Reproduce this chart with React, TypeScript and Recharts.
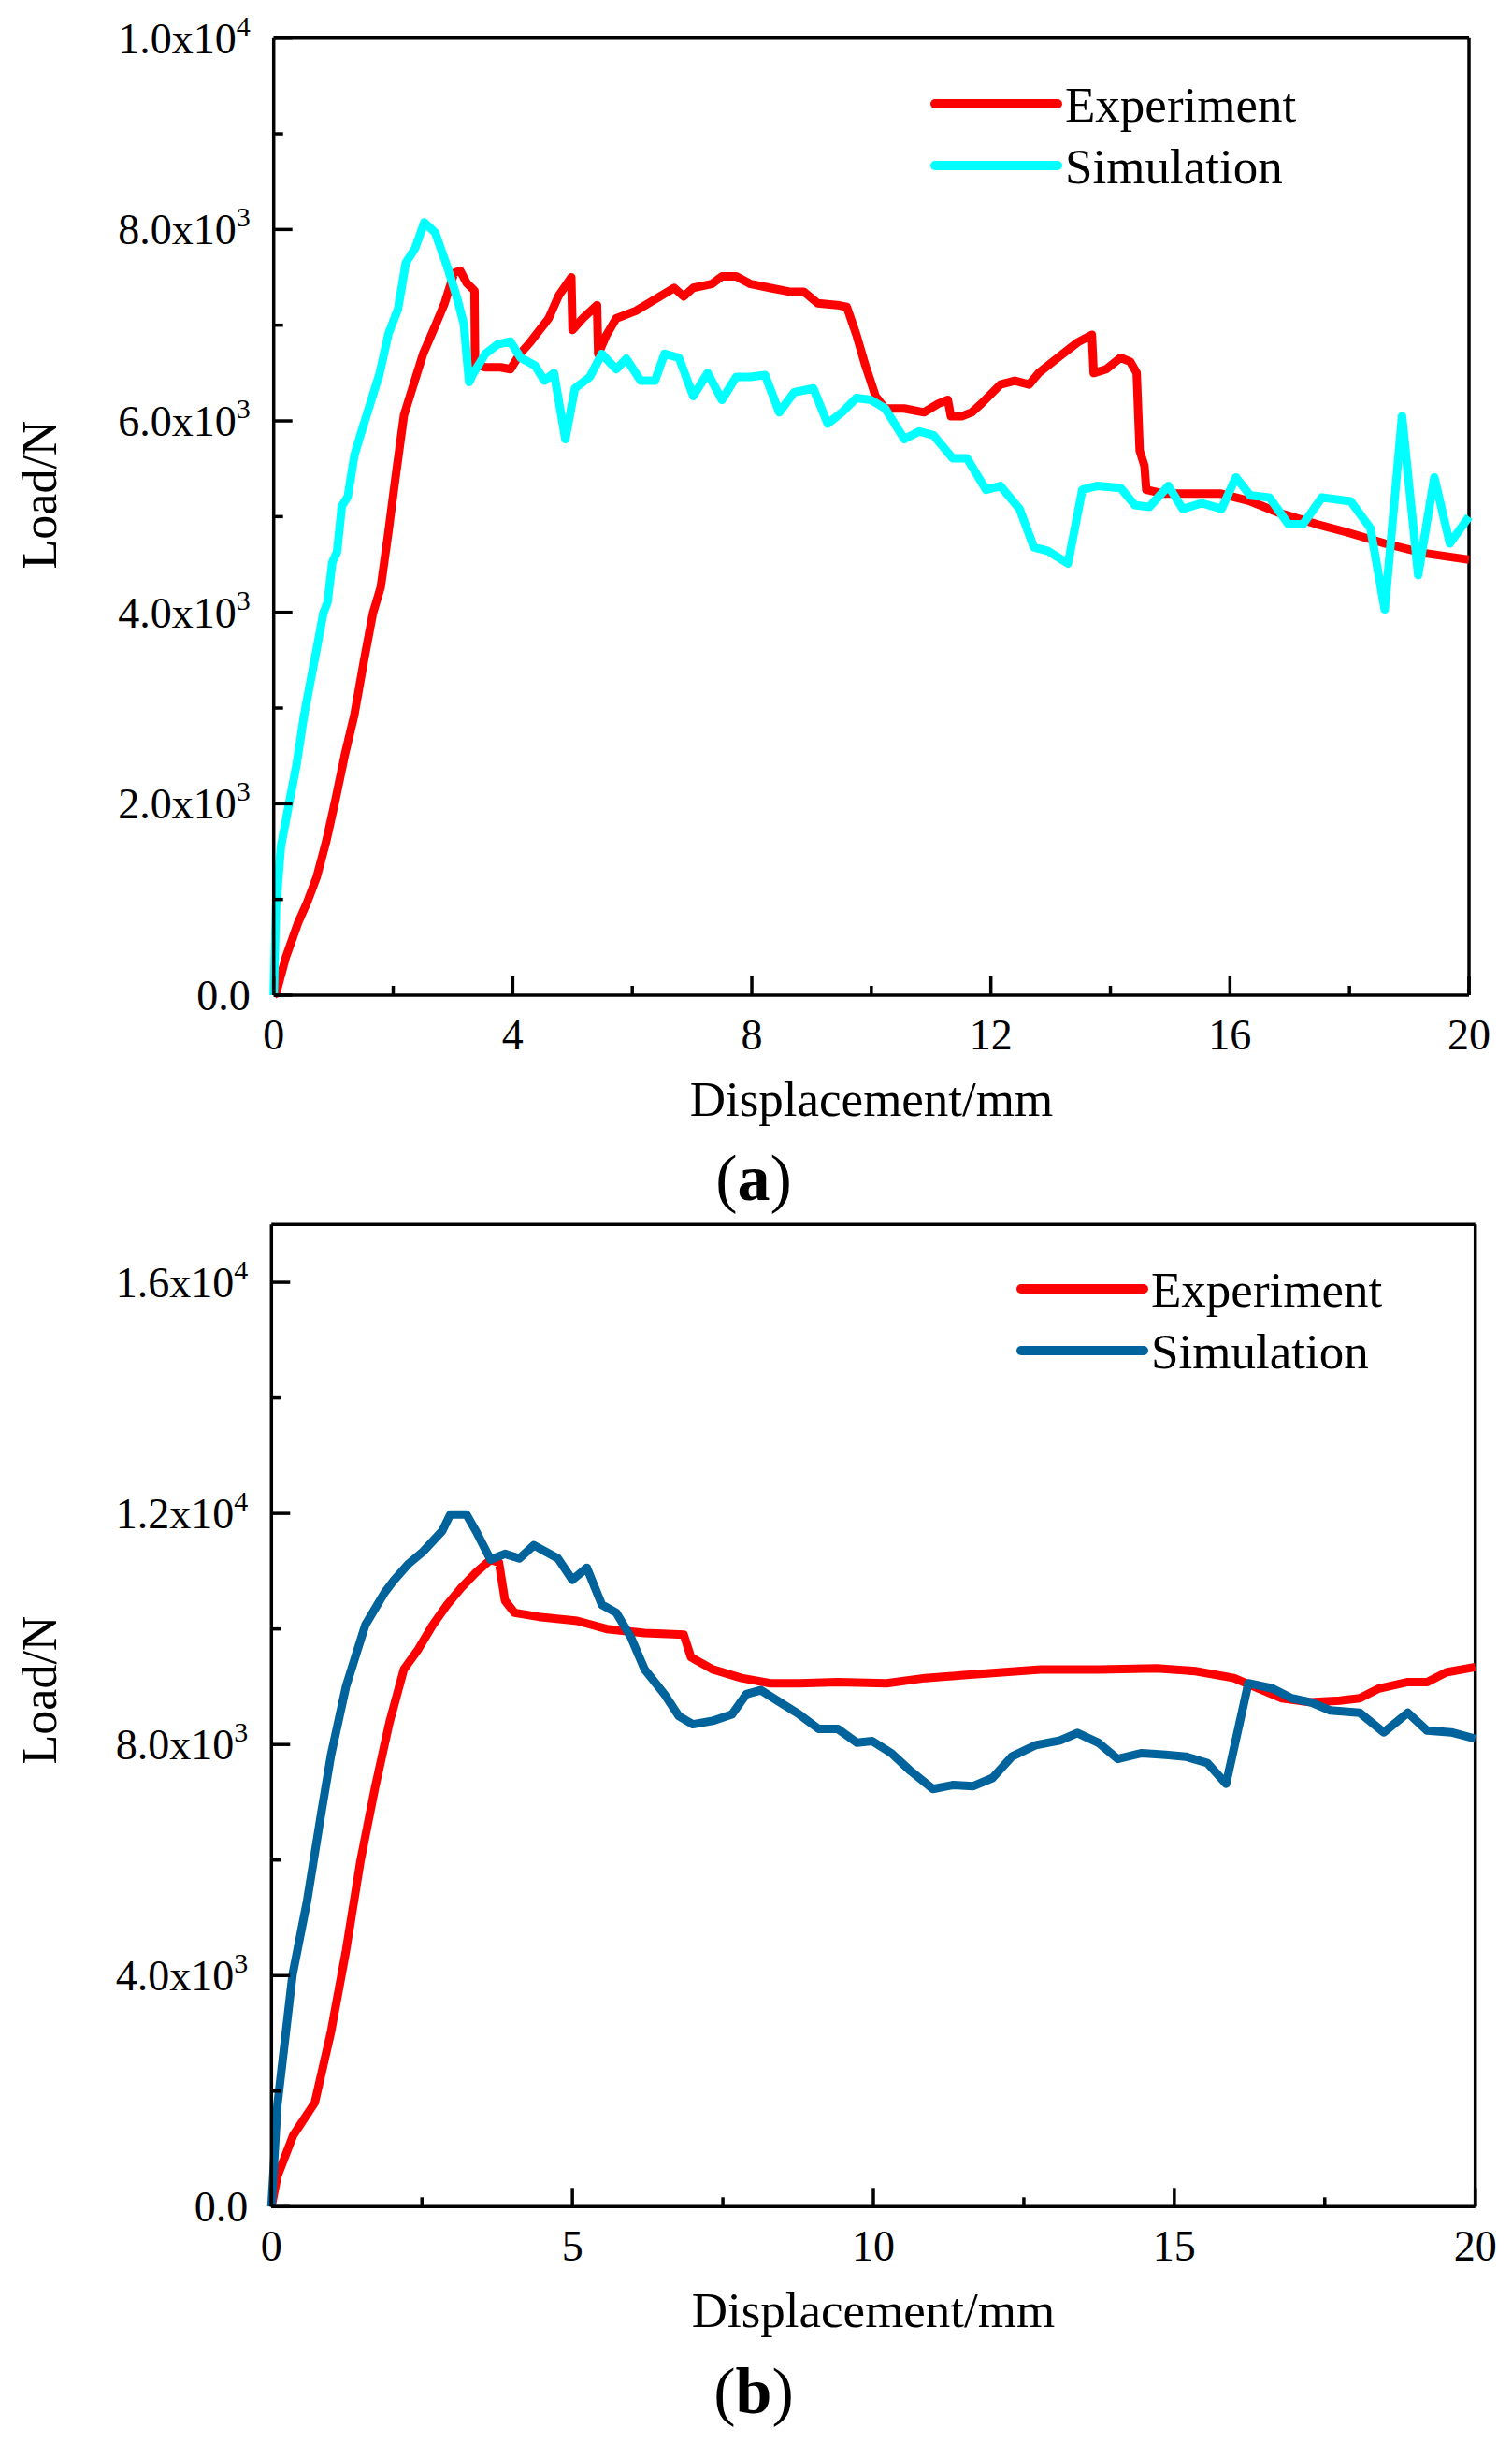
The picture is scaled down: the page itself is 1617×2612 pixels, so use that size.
import React from 'react';
import { LineChart, Line, XAxis, YAxis, ReferenceLine, Legend } from 'recharts';

const FONT = "'Liberation Serif', 'Times New Roman', Times, serif";

// ---------- Panel (a) data ----------
const experimentA: [number, number][] = [
  [0, 0], [0.04, 20], [0.2, 390], [0.41, 760], [0.56, 970], [0.72, 1235], [0.88, 1610], [1.03, 2030],
  [1.19, 2510], [1.35, 2930], [1.5, 3460], [1.66, 3990], [1.79, 4260], [1.92, 4840], [2.03, 5370],
  [2.18, 6060], [2.34, 6380], [2.5, 6700], [2.7, 6990], [2.86, 7230], [3.02, 7545], [3.12, 7570],
  [3.23, 7440], [3.36, 7360], [3.37, 6590], [3.54, 6560], [3.8, 6560], [3.96, 6540], [4.12, 6700],
  [4.29, 6820], [4.6, 7070], [4.77, 7310], [4.98, 7500], [5.0, 6950], [5.17, 7070], [5.41, 7210],
  [5.43, 6700], [5.57, 6900], [5.73, 7070], [6.06, 7150], [6.38, 7270], [6.7, 7390], [6.86, 7300],
  [7.02, 7390], [7.33, 7430], [7.5, 7510], [7.74, 7510], [7.98, 7430], [8.3, 7390], [8.63, 7350],
  [8.87, 7350], [9.1, 7230], [9.43, 7210], [9.59, 7190], [9.75, 6900], [9.9, 6580], [10.07, 6260],
  [10.23, 6130], [10.55, 6130], [10.88, 6090], [11.12, 6180], [11.28, 6220], [11.33, 6050],
  [11.52, 6050], [11.68, 6090], [11.84, 6180], [12.16, 6380], [12.4, 6420], [12.64, 6380],
  [12.8, 6500], [13.12, 6660], [13.45, 6820], [13.69, 6900], [13.72, 6500], [13.93, 6540],
  [14.17, 6660], [14.33, 6620], [14.44, 6500], [14.49, 5690], [14.57, 5530], [14.6, 5280],
  [14.9, 5240], [15.37, 5240], [15.85, 5240], [16.34, 5160], [16.82, 5040], [17.46, 4920],
  [17.94, 4840], [18.59, 4720], [19.23, 4620], [20, 4550],
];

const simulationA: [number, number][] = [
  [0, 0], [0.04, 920], [0.12, 1550], [0.25, 1980], [0.38, 2400], [0.51, 2930], [0.64, 3360],
  [0.72, 3620], [0.83, 3990], [0.9, 4100], [0.98, 4520], [1.06, 4630], [1.14, 5110], [1.24, 5210],
  [1.35, 5640], [1.45, 5850], [1.61, 6170], [1.77, 6490], [1.92, 6910], [2.08, 7170], [2.21, 7650],
  [2.37, 7810], [2.52, 8075], [2.7, 7970], [2.91, 7600], [3.07, 7280], [3.18, 7015], [3.27, 6405],
  [3.33, 6485], [3.54, 6700], [3.75, 6800], [3.96, 6830], [4.13, 6660], [4.37, 6580], [4.53, 6420],
  [4.69, 6500], [4.88, 5810], [5.04, 6340], [5.29, 6460], [5.49, 6700], [5.73, 6540], [5.9, 6650],
  [6.14, 6420], [6.38, 6420], [6.54, 6700], [6.78, 6660], [7.02, 6260], [7.26, 6500], [7.5, 6220],
  [7.74, 6460], [7.98, 6460], [8.22, 6480], [8.46, 6090], [8.71, 6300], [9.03, 6340], [9.27, 5970],
  [9.51, 6090], [9.75, 6240], [9.99, 6220], [10.23, 6130], [10.55, 5810], [10.8, 5890],
  [11.04, 5850], [11.36, 5610], [11.6, 5610], [11.92, 5280], [12.16, 5320], [12.48, 5080],
  [12.72, 4680], [12.96, 4640], [13.29, 4510], [13.53, 5280], [13.77, 5320], [14.17, 5300],
  [14.41, 5120], [14.65, 5100], [14.97, 5320], [15.21, 5080], [15.53, 5140], [15.86, 5080],
  [16.1, 5410], [16.34, 5220], [16.66, 5200], [16.98, 4920], [17.22, 4920], [17.54, 5200],
  [18.02, 5160], [18.35, 4880], [18.59, 4030], [18.88, 6050], [19.15, 4390], [19.42, 5410],
  [19.68, 4720], [20, 5000],
];

// ---------- Panel (b) data ----------
const experimentB: [number, number][] = [
  [0, 0], [0.1, 530], [0.36, 1230], [0.72, 1800], [0.99, 3030], [1.24, 4440], [1.48, 5990],
  [1.72, 7250], [1.96, 8380], [2.2, 9300], [2.44, 9650], [2.68, 10070], [2.92, 10420], [3.16, 10720],
  [3.4, 10980], [3.64, 11200], [3.78, 11150], [3.88, 10490], [4.04, 10280], [4.44, 10210],
  [5.08, 10140], [5.57, 10000], [6.2, 9930], [6.85, 9900], [6.97, 9510], [7.33, 9300], [7.81, 9150],
  [8.29, 9060], [8.77, 9060], [9.41, 9080], [10.22, 9060], [10.86, 9150], [11.5, 9200],
  [12.14, 9250], [12.78, 9300], [13.75, 9300], [14.71, 9320], [15.35, 9270], [15.99, 9150],
  [16.31, 9010], [16.79, 8800], [17.27, 8730], [17.75, 8760], [18.08, 8800], [18.4, 8970],
  [18.88, 9080], [19.2, 9080], [19.52, 9250], [20, 9340],
];

const simulationB: [number, number][] = [
  [0, 0], [0.1, 1770], [0.35, 4010], [0.59, 5280], [0.83, 6830], [0.99, 7820], [1.24, 9010],
  [1.56, 10070], [1.88, 10630], [2.04, 10850], [2.28, 11130], [2.52, 11340], [2.84, 11700],
  [2.97, 11980], [3.24, 11980], [3.4, 11690], [3.64, 11200], [3.88, 11300], [4.12, 11220],
  [4.36, 11450], [4.76, 11220], [5.0, 10850], [5.24, 11060], [5.49, 10420], [5.73, 10280],
  [5.97, 9860], [6.2, 9300], [6.53, 8870], [6.77, 8490], [7.0, 8350], [7.33, 8410], [7.65, 8520],
  [7.89, 8870], [8.13, 8940], [8.45, 8730], [8.77, 8520], [9.09, 8270], [9.41, 8270], [9.73, 8030],
  [9.98, 8060], [10.3, 7850], [10.62, 7540], [10.99, 7230], [11.33, 7300], [11.66, 7280],
  [11.98, 7420], [12.3, 7790], [12.7, 7990], [13.1, 8070], [13.39, 8200], [13.74, 8030],
  [14.06, 7750], [14.46, 7850], [14.86, 7820], [15.19, 7790], [15.55, 7680], [15.86, 7320],
  [16.23, 9060], [16.63, 8970], [16.95, 8800], [17.27, 8730], [17.59, 8590], [18.08, 8550],
  [18.48, 8210], [18.88, 8550], [19.2, 8240], [19.6, 8210], [20, 8100],
];

// ---------- Ticks ----------
const xTicksA = [0, 2, 4, 6, 8, 10, 12, 14, 16, 18, 20];
const xMajorA = [0, 4, 8, 12, 16, 20];
const xLabelsA = ['0', '4', '8', '12', '16', '20'];
const yTicksA = [0, 1000, 2000, 3000, 4000, 5000, 6000, 7000, 8000, 9000, 10000];
const yMajorA = [0, 2000, 4000, 6000, 8000, 10000];
const yLabelsA = ['0.0', '2.0x10^3', '4.0x10^3', '6.0x10^3', '8.0x10^3', '1.0x10^4'];

const xTicksB = [0, 2.5, 5, 7.5, 10, 12.5, 15, 17.5, 20];
const xMajorB = [0, 5, 10, 15, 20];
const xLabelsB = ['0', '5', '10', '15', '20'];
const yTicksB = [0, 2000, 4000, 6000, 8000, 10000, 12000, 14000, 16000];
const yMajorB = [0, 4000, 8000, 12000, 16000];
const yLabelsB = ['0.0', '4.0x10^3', '8.0x10^3', '1.2x10^4', '1.6x10^4'];

const seriesNames = ['Experiment', 'Simulation'];
const colorsA = ['#ff0000', '#00ffff'];
const colorsB = ['#ff0000', '#00639b'];

const toXY = (arr: [number, number][]) => arr.map(([x, y]) => ({ x, y }));

const AXIS_W = 3.5;
const LINE_W = 9;

const makeYTick = (majors: number[], labels: string[]) => (props: any) => {
  const { x, y, payload } = props;
  const i = majors.indexOf(payload.value);
  const major = i >= 0;
  const parts = major ? labels[i].split('^') : ['', ''];
  return (
    <g>
      <line x1={x} y1={y} x2={x + (major ? 20 : 10)} y2={y} stroke="#000" strokeWidth={AXIS_W} />
      {major && (
        <text x={x - 25} y={y + 16} textAnchor="end" fontFamily={FONT} fontSize={46} fill="#000">
          {parts[0]}
          {parts[1] ? (
            <tspan dy={-19} fontSize={30}>
              {parts[1]}
            </tspan>
          ) : null}
        </text>
      )}
    </g>
  );
};

const makeXTick = (majors: number[], labels: string[]) => (props: any) => {
  const { x, y, payload } = props;
  const i = majors.indexOf(payload.value);
  const major = i >= 0;
  return (
    <g>
      <line x1={x} y1={y} x2={x} y2={y - (major ? 20 : 10)} stroke="#000" strokeWidth={AXIS_W} />
      {major && (
        <text x={x} y={y + 58} textAnchor="middle" fontFamily={FONT} fontSize={46} fill="#000">
          {labels[i]}
        </text>
      )}
    </g>
  );
};

const LegendContent = (props: any) => {
  const payload = props.payload || [];
  return (
    <svg width={480} height={130} style={{ display: 'block', overflow: 'visible' }}>
      {payload.map((p: any, i: number) => (
        <g key={i}>
          <line x1={10} y1={20 + i * 66} x2={141} y2={20 + i * 66} stroke={p.color} strokeWidth={10} strokeLinecap="round" />
          <text x={149} y={39 + i * 66} fontFamily={FONT} fontSize={53} fill="#000">
            {p.value}
          </text>
        </g>
      ))}
    </svg>
  );
};

type PanelProps = {
  top: number;
  height: number;
  margin: { top: number; right: number; bottom: number; left: number };
  exp: [number, number][];
  sim: [number, number][];
  colors: string[];
  xTicks: number[];
  xMajor: number[];
  xLabels: string[];
  yTicks: number[];
  yMajor: number[];
  yLabels: string[];
  yMax: number;
  legendPos: { left: number; top: number };
  xTitle: { x: number; y: number };
  yTitle: { x: number; y: number };
  panel: { x: number; y: number; letter: string };
};

const Panel = (p: PanelProps) => (
  <div style={{ position: 'absolute', left: 0, top: p.top, width: 1617, height: p.height }}>
    <LineChart width={1617} height={p.height} margin={p.margin}>
      <XAxis
        type="number"
        dataKey="x"
        domain={[0, 20]}
        ticks={p.xTicks}
        interval={0}
        tickSize={0}
        tickMargin={0}
        tickLine={false}
        height={60}
        axisLine={{ stroke: '#000', strokeWidth: AXIS_W }}
        tick={makeXTick(p.xMajor, p.xLabels)}
        label={{
          content: () => (
            <g>
              <text x={p.xTitle.x} y={p.xTitle.y} textAnchor="middle" fontFamily={FONT} fontSize={53} fill="#000">
                Displacement/mm
              </text>
              <text x={p.panel.x} y={p.panel.y} textAnchor="middle" fontFamily={FONT} fontSize={70} fill="#000">
                (<tspan fontWeight="bold">{p.panel.letter}</tspan>)
              </text>
            </g>
          ),
        }}
      />
      <YAxis
        type="number"
        domain={[0, p.yMax]}
        ticks={p.yTicks}
        interval={0}
        tickSize={0}
        tickMargin={0}
        tickLine={false}
        width={80}
        axisLine={{ stroke: '#000', strokeWidth: AXIS_W }}
        tick={makeYTick(p.yMajor, p.yLabels)}
        label={{
          content: () => (
            <text
              x={p.yTitle.x}
              y={p.yTitle.y}
              textAnchor="middle"
              fontFamily={FONT}
              fontSize={52}
              fill="#000"
              transform={`rotate(-90 ${p.yTitle.x} ${p.yTitle.y})`}
            >
              Load/N
            </text>
          ),
        }}
      />
      <ReferenceLine y={p.yMax} stroke="#000" strokeWidth={AXIS_W} />
      <ReferenceLine x={20} stroke="#000" strokeWidth={AXIS_W} />
      <Line
        data={toXY(p.exp)}
        dataKey="y"
        name={seriesNames[0]}
        type="linear"
        stroke={p.colors[0]}
        strokeWidth={LINE_W}
        strokeLinejoin="round"
        dot={false}
        activeDot={false}
        isAnimationActive={false}
      />
      <Line
        data={toXY(p.sim)}
        dataKey="y"
        name={seriesNames[1]}
        type="linear"
        stroke={p.colors[1]}
        strokeWidth={LINE_W}
        strokeLinejoin="round"
        dot={false}
        activeDot={false}
        isAnimationActive={false}
      />
      <Legend
        layout="vertical"
        align="center"
        verticalAlign="middle"
        content={LegendContent}
        wrapperStyle={{ left: p.legendPos.left, top: p.legendPos.top, width: 480, height: 130 }}
      />
    </LineChart>
  </div>
);

export default function App() {
  return (
    <div style={{ position: 'absolute', left: 0, top: 0, width: 1617, height: 2612, background: '#fff' }}>
      <Panel
        top={0}
        height={1300}
        margin={{ top: 40.7, right: 46, bottom: 176, left: 212.7 }}
        exp={experimentA}
        sim={simulationA}
        colors={colorsA}
        xTicks={xTicksA}
        xMajor={xMajorA}
        xLabels={xLabelsA}
        yTicks={yTicksA}
        yMajor={yMajorA}
        yLabels={yLabelsA}
        yMax={10000}
        legendPos={{ left: 990, top: 90.7 }}
        xTitle={{ x: 932, y: 1193 }}
        yTitle={{ x: 60, y: 529 }}
        panel={{ x: 806, y: 1283, letter: 'a' }}
      />
      <Panel
        top={1300}
        height={1312}
        margin={{ top: 9.3, right: 39.3, bottom: 192.7, left: 210.3 }}
        exp={experimentB}
        sim={simulationB}
        colors={colorsB}
        xTicks={xTicksB}
        xMajor={xMajorB}
        xLabels={xLabelsB}
        yTicks={yTicksB}
        yMajor={yMajorB}
        yLabels={yLabelsB}
        yMax={17000}
        legendPos={{ left: 1082, top: 58 }}
        xTitle={{ x: 934, y: 1188 }}
        yTitle={{ x: 60, y: 507 }}
        panel={{ x: 806, y: 1280, letter: 'b' }}
      />
    </div>
  );
}
